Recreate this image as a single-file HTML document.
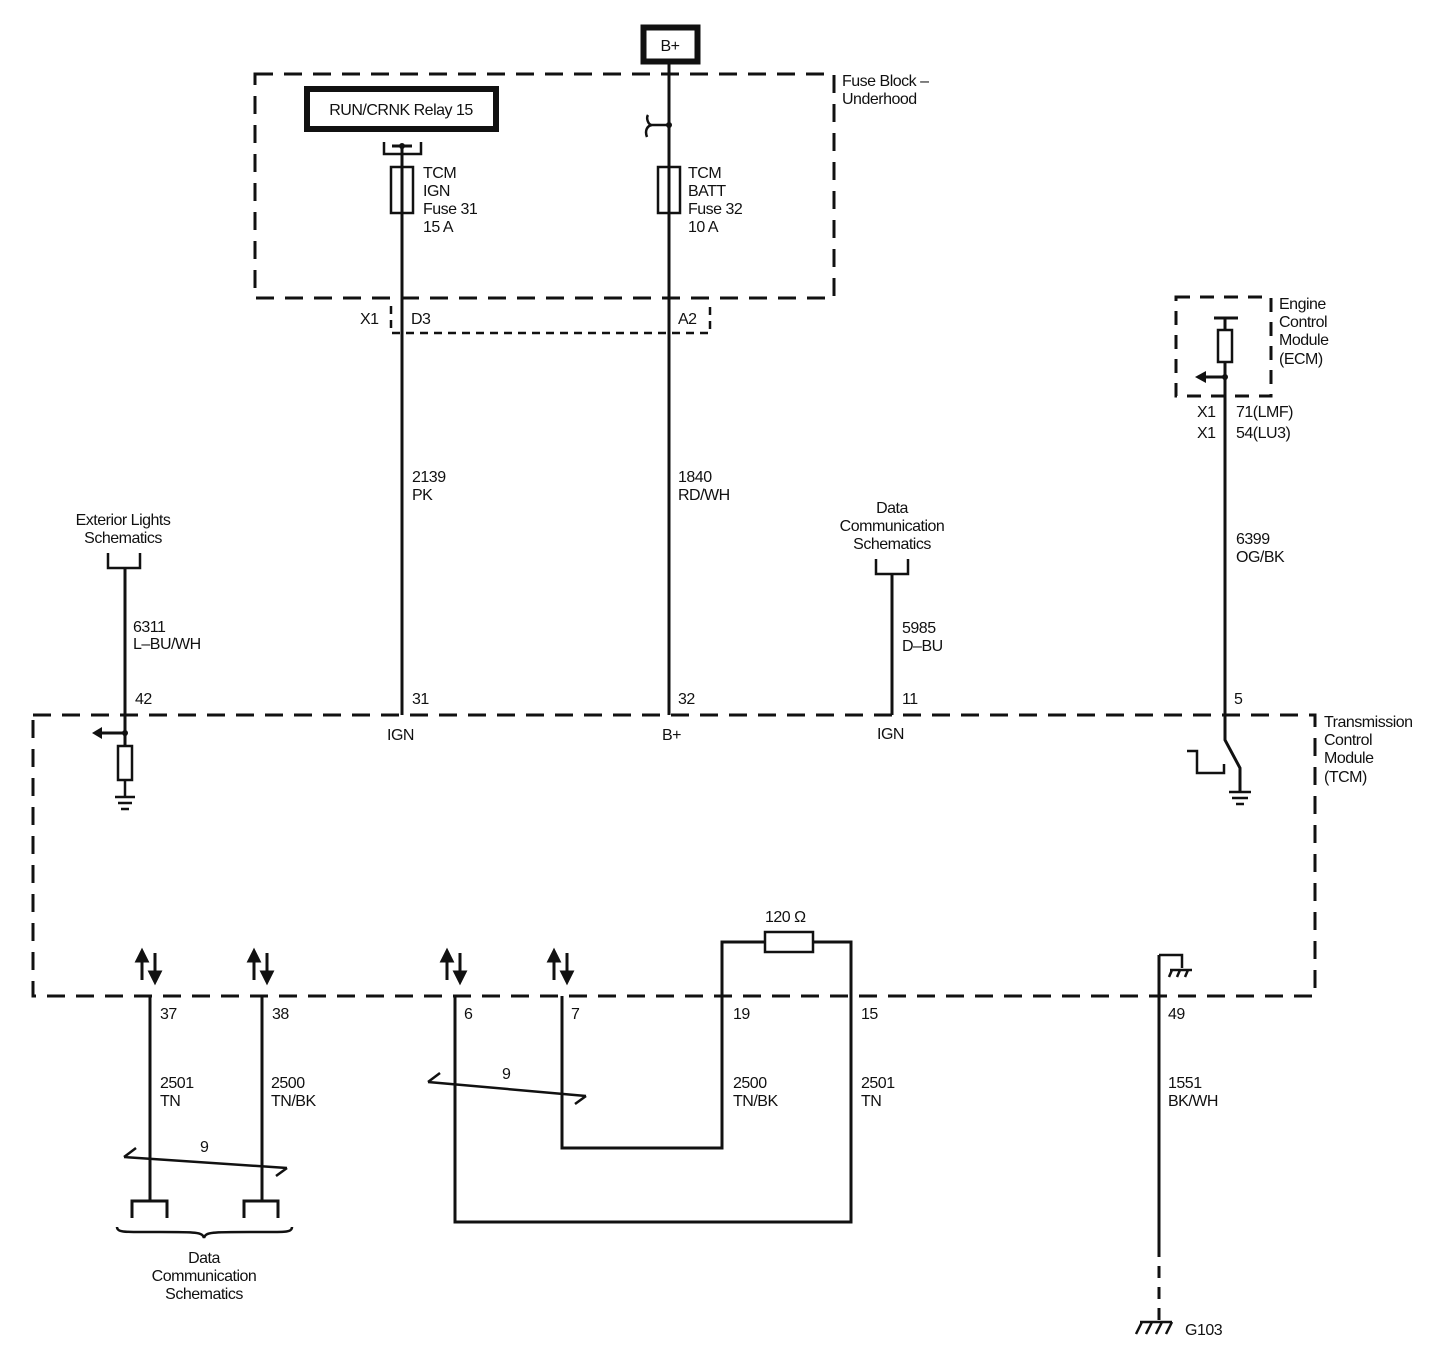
<!DOCTYPE html>
<html><head><meta charset="utf-8"><style>
html,body{margin:0;padding:0;background:#fff;}
svg{display:block;}
text{font-family:"Liberation Sans",sans-serif;font-size:16px;fill:#111;letter-spacing:-0.5px;}
</style></head><body>
<svg width="1452" height="1370" viewBox="0 0 1452 1370" xmlns="http://www.w3.org/2000/svg">
<g fill="none" stroke="#111" stroke-width="3">
<!-- Fuse block dashed -->
<rect x="255" y="74" width="579" height="224" stroke-dasharray="18,11"/>
<!-- X1 connector dashed -->
<path d="M391,306 V333 H710 V306" stroke-dasharray="8,6" stroke-width="2.5"/>
<!-- TCM dashed -->
<rect x="33" y="715" width="1282" height="281" stroke-dasharray="18,11"/>
<!-- ECM dashed -->
<rect x="1176" y="297" width="95" height="99" stroke-dasharray="14,10"/>
</g>
<!-- B+ box -->
<rect x="643.5" y="27.5" width="54" height="34" fill="none" stroke="#111" stroke-width="6"/>
<text x="670" y="51" text-anchor="middle" font-size="15">B+</text>
<!-- Relay box -->
<rect x="307" y="89" width="189" height="40" fill="none" stroke="#111" stroke-width="6"/>
<text x="401" y="115" text-anchor="middle" font-size="16">RUN/CRNK Relay 15</text>
<text x="842" y="86">Fuse Block –</text>
<text x="842" y="104">Underhood</text>

<g fill="none" stroke="#111" stroke-width="3">
<!-- left wire -->
<path d="M402,146 V715"/>
<path d="M384,142 V154 H421 V142" stroke-width="2.5"/>
<path d="M392,146 H412"/>
<rect x="391" y="167" width="22" height="46" stroke-width="2.5"/>
<!-- right wire -->
<path d="M669,63 V715"/>
<path d="M669,125 H652 M652,125 C648,125 646,118 648,115 M652,125 C646,126 645,132 647,137" stroke-width="2.5"/>
<rect x="658" y="167" width="22" height="46" stroke-width="2.5"/>
<!-- exterior lights -->
<path d="M108,553 V568 H140 V553" stroke-width="2.5"/>
<path d="M125,568 V746"/>
<path d="M125,733 H100"/>
<rect x="118" y="746" width="14" height="34" stroke-width="2.5"/>
<path d="M125,780 V797 M115,797 H135 M118,803 H132 M121,809 H129" stroke-width="2.5"/>
<!-- data comm top -->
<path d="M876,559 V574 H908 V559" stroke-width="2.5"/>
<path d="M892,574 V715"/>
<!-- ECM wire -->
<path d="M1214,318 H1238" />
<path d="M1225,318 V330"/>
<rect x="1218" y="330" width="14" height="32" stroke-width="2.5"/>
<path d="M1225,362 V740 L1240,768 V792"/>
<path d="M1225,377 H1205"/>
<path d="M1229,792 H1251 M1232,798 H1248 M1236,804 H1244" stroke-width="2.5"/>
<path d="M1187,751 H1197 V773 H1224 V764" stroke-width="2.5"/>
<!-- bottom pins -->
<path d="M150,996 V1201 M132,1218 V1201 H167 V1218"/>
<path d="M262,996 V1201 M244,1218 V1201 H278 V1218"/>
<path d="M117,1227 C117,1233 126,1232 160,1232 C195,1232 203,1232 204,1238 C205,1232 213,1232 250,1232 C285,1232 292,1233 292,1227" stroke-width="2.5"/>
<path d="M124,1157 L287,1168 M124,1157 L136,1148 M287,1168 L276,1176" stroke-width="2.5"/>
<path d="M455,996 V1222 H851 V942 H813 M765,942 H722 V1148 H562 V996"/>
<rect x="765" y="932" width="48" height="20" stroke-width="2.5"/>
<path d="M428,1082 L586,1096 M428,1082 L440,1073 M586,1096 L575,1104" stroke-width="2.5"/>
<!-- pin 49 -->
<path d="M1159,955 V1245"/>
<path d="M1159,1245 V1320" stroke-dasharray="12,9"/>
<path d="M1159,955 H1182 V968 M1170,970 H1192 M1172,970 L1169,977 M1180,970 L1177,977 M1188,970 L1185,977" stroke-width="2.5"/>
<path d="M1140,1322 H1172 M1142,1322 L1136,1334 M1152,1322 L1146,1334 M1162,1322 L1156,1334 M1172,1322 L1166,1334" stroke-width="2.5"/>
</g>
<!-- arrowheads and dots -->
<g fill="#111">
<polygon points="92,733 102,727 102,739"/>
<polygon points="1195,377 1206,371 1206,383"/>
<circle cx="402" cy="146" r="3"/><circle cx="669" cy="125" r="3"/>
<circle cx="125" cy="733" r="3"/><circle cx="1225" cy="377" r="3"/>
</g>
<!-- bidirectional arrows -->
<g stroke="#111" stroke-width="3" fill="#111">
<g transform="translate(150,0)"><path d="M-8,980 V958 M5,953 V975"/><polygon points="-8,951 -13,961 -3,961"/><polygon points="5,982 0,972 10,972"/></g>
<g transform="translate(262,0)"><path d="M-8,980 V958 M5,953 V975"/><polygon points="-8,951 -13,961 -3,961"/><polygon points="5,982 0,972 10,972"/></g>
<g transform="translate(455,0)"><path d="M-8,980 V958 M5,953 V975"/><polygon points="-8,951 -13,961 -3,961"/><polygon points="5,982 0,972 10,972"/></g>
<g transform="translate(562,0)"><path d="M-8,980 V958 M5,953 V975"/><polygon points="-8,951 -13,961 -3,961"/><polygon points="5,982 0,972 10,972"/></g>
</g>
<!-- labels -->
<text x="423" y="178">TCM</text><text x="423" y="196">IGN</text><text x="423" y="214">Fuse 31</text><text x="423" y="232">15 A</text>
<text x="688" y="178">TCM</text><text x="688" y="196">BATT</text><text x="688" y="214">Fuse 32</text><text x="688" y="232">10 A</text>
<text x="360" y="324">X1</text><text x="411" y="324">D3</text><text x="678" y="324">A2</text>
<text x="412" y="482">2139</text><text x="412" y="500">PK</text>
<text x="678" y="482">1840</text><text x="678" y="500">RD/WH</text>
<text x="123" y="525" text-anchor="middle">Exterior Lights</text><text x="123" y="543" text-anchor="middle">Schematics</text>
<text x="133" y="632">6311</text><text x="133" y="649">L–BU/WH</text>
<text x="892" y="513" text-anchor="middle">Data</text><text x="892" y="531" text-anchor="middle">Communication</text><text x="892" y="549" text-anchor="middle">Schematics</text>
<text x="902" y="633">5985</text><text x="902" y="651">D–BU</text>
<text x="1279" y="309">Engine</text><text x="1279" y="327">Control</text><text x="1279" y="345">Module</text><text x="1279" y="364">(ECM)</text>
<text x="1197" y="417">X1</text><text x="1236" y="417">71(LMF)</text>
<text x="1197" y="438">X1</text><text x="1236" y="438">54(LU3)</text>
<text x="1236" y="544">6399</text><text x="1236" y="562">OG/BK</text>
<text x="135" y="704">42</text><text x="412" y="704">31</text><text x="678" y="704">32</text><text x="902" y="704">11</text><text x="1234" y="704">5</text>
<text x="387" y="740">IGN</text><text x="662" y="740">B+</text><text x="877" y="739">IGN</text>
<text x="1324" y="727">Transmission</text><text x="1324" y="745">Control</text><text x="1324" y="763">Module</text><text x="1324" y="782">(TCM)</text>
<text x="765" y="922">120 Ω</text>
<text x="160" y="1019">37</text><text x="272" y="1019">38</text><text x="464" y="1019">6</text><text x="571" y="1019">7</text><text x="733" y="1019">19</text><text x="861" y="1019">15</text><text x="1168" y="1019">49</text>
<text x="160" y="1088">2501</text><text x="160" y="1106">TN</text>
<text x="271" y="1088">2500</text><text x="271" y="1106">TN/BK</text>
<text x="733" y="1088">2500</text><text x="733" y="1106">TN/BK</text>
<text x="861" y="1088">2501</text><text x="861" y="1106">TN</text>
<text x="1168" y="1088">1551</text><text x="1168" y="1106">BK/WH</text>
<text x="200" y="1152">9</text><text x="502" y="1079">9</text>
<text x="204" y="1263" text-anchor="middle">Data</text><text x="204" y="1281" text-anchor="middle">Communication</text><text x="204" y="1299" text-anchor="middle">Schematics</text>
<text x="1185" y="1335">G103</text>
</svg>
</body></html>
